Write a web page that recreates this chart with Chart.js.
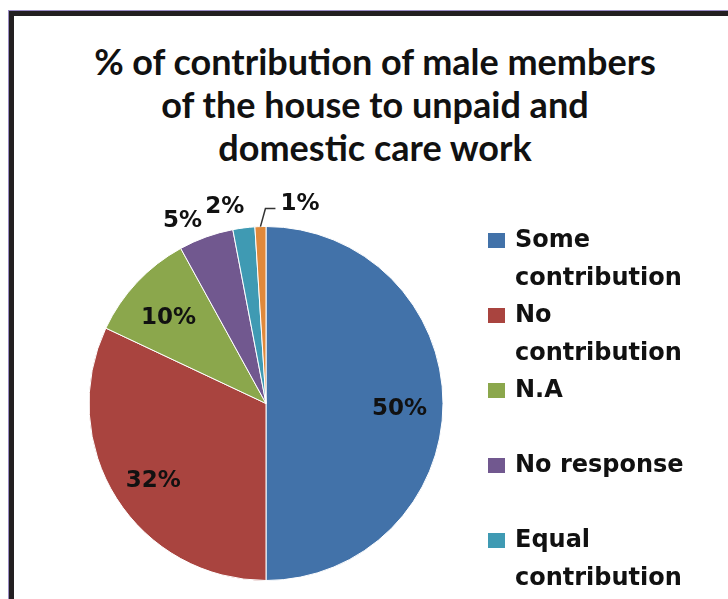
<!DOCTYPE html>
<html>
<head>
<meta charset="utf-8">
<script src="https://cdn.jsdelivr.net/npm/chart.js@4.4.1/dist/chart.umd.min.js"></script>
<style>
    html, body { margin: 0; padding: 0; background: #fff; overflow: hidden; }
    body { width: 728px; height: 599px; position: relative; }
    #frame {
        position: absolute; left: 9px; top: 11px; width: 760px; height: 640px;
        border-left: 5px solid #231f21; border-top: 5px solid #231f21;
        box-shadow: -1px -1px 0 #9a8cc4;
    }
    #chartTitle {
        position: absolute; left: 14px; top: 40px; width: 722px; text-align: center;
        font-family: Lato, sans-serif; font-weight: bold; font-size: 36px; line-height: 43px;
        color: #111;
    }
    #chartBox { position: absolute; left: 14px; top: 16px; width: 722px; height: 583px; }
    #legend {
        position: absolute; left: 488px; top: 221px; margin: 0; padding: 0; list-style: none;
        font-family: "DejaVu Sans", sans-serif; font-weight: bold; font-size: 24px;
        line-height: 37.5px; color: #111;
    }
    #legend li { position: relative; min-height: 75px; padding-left: 27px; width: 185px; }
    #legend .swatch { position: absolute; left: 0; top: 12px; width: 17px; height: 15px; }
</style>
</head>
<body>
<div id="frame"></div>
<div id="chartTitle"></div>
<div id="chartBox"><canvas id="pieChart" width="722" height="583"></canvas></div>
<ul id="legend"></ul>
<script>
// categories and shares (%)
const categories = ['Some contribution', 'No contribution', 'N.A', 'No response', 'Equal contribution', 'Other'];
const shares = [50, 32, 10, 5, 2, 1];
const sliceColors = ['#4272a9', '#a9443f', '#8ba74c', '#71588f', '#3f9ab3', '#e0893b'];
const titleLines = ['% of contribution of male members', 'of the house to unpaid and', 'domestic care work'];

document.getElementById('chartTitle').innerHTML = titleLines.join('<br>');

// percentage labels: inside for big slices, outside for small ones, leader line for the tiniest
const sliceLabels = {
    id: 'sliceLabels',
    afterDatasetsDraw(chart) {
        const ctx = chart.ctx;
        const meta = chart.getDatasetMeta(0);
        const values = chart.data.datasets[0].data;
        ctx.save();
        ctx.font = 'bold 23px "DejaVu Sans", sans-serif';
        ctx.fillStyle = '#111';
        ctx.textBaseline = 'middle';
        meta.data.forEach((arc, i) => {
            const p = arc.getProps(['x', 'y', 'startAngle', 'endAngle', 'outerRadius'], true);
            const mid = (p.startAngle + p.endAngle) / 2;
            const text = values[i] + '%';
            if (values[i] >= 10) {
                const r = p.outerRadius * 0.755;
                ctx.textAlign = 'center';
                ctx.fillText(text, p.x + Math.cos(mid) * r, p.y + Math.sin(mid) * r + 6);
            } else if (values[i] >= 2) {
                const a = mid - 4 * Math.PI / 180;
                const r = p.outerRadius + 25;
                ctx.textAlign = 'center';
                ctx.fillText(text, p.x + Math.cos(a) * r - 2, p.y + Math.sin(a) * r + 2);
            } else {
                const sx = p.x + Math.cos(mid) * p.outerRadius;
                const sy = p.y + Math.sin(mid) * p.outerRadius;
                const ex = sx + 5, ey = sy - 18;
                ctx.strokeStyle = '#333';
                ctx.lineWidth = 1.5;
                ctx.beginPath();
                ctx.moveTo(sx, sy);
                ctx.lineTo(ex, ey);
                ctx.lineTo(ex + 10, ey);
                ctx.stroke();
                ctx.textAlign = 'left';
                ctx.fillText(text, ex + 15, ey - 5);
            }
        });
        ctx.restore();
    }
};

const chart = new Chart(document.getElementById('pieChart'), {
    type: 'pie',
    data: {
        labels: categories,
        datasets: [{
            data: shares,
            backgroundColor: sliceColors,
            borderColor: '#ffffff',
            borderWidth: 1
        }]
    },
    options: {
        responsive: false,
        animation: false,
        devicePixelRatio: 1,
        layout: {
            padding: { left: 74, right: 292, top: 210, bottom: 18 }
        },
        plugins: {
            legend: { display: false },
            tooltip: { enabled: false },
            title: { display: false }
        }
    },
    plugins: [sliceLabels]
});

// legend list built from the chart's own labels and colours
const legendEl = document.getElementById('legend');
chart.data.labels.forEach((label, i) => {
    const li = document.createElement('li');
    const sw = document.createElement('span');
    sw.className = 'swatch';
    sw.style.background = chart.data.datasets[0].backgroundColor[i];
    li.appendChild(sw);
    li.appendChild(document.createTextNode(label));
    legendEl.appendChild(li);
});
</script>
</body>
</html>
